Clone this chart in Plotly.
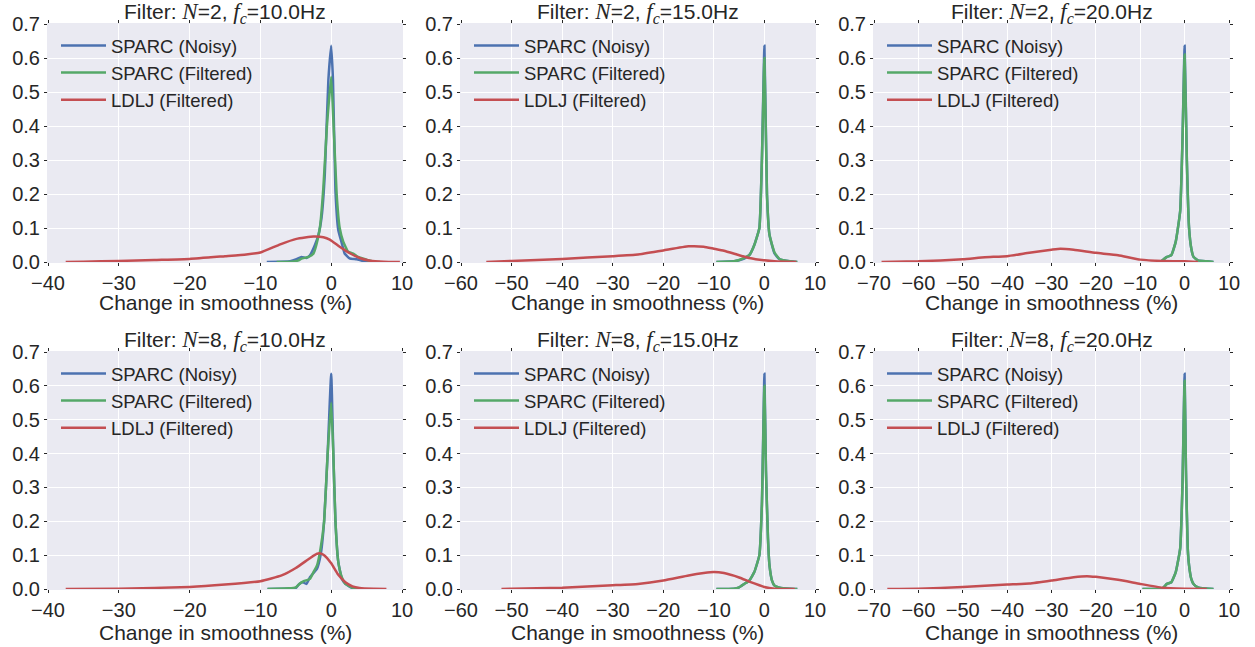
import plotly.graph_objects as go

# ---------------- data ----------------
titles = [
    ("2", "10.0"), ("2", "15.0"), ("2", "20.0"),
    ("8", "10.0"), ("8", "15.0"), ("8", "20.0"),
]
x_ranges = [[-40, 10], [-60, 10], [-70, 10], [-40, 10], [-60, 10], [-70, 10]]
series_names = ["SPARC (Noisy)", "SPARC (Filtered)", "LDLJ (Filtered)"]
x_label = "Change in smoothness (%)"

# Panel 1: N=2, fc=10
p1_noisy_x = [-9.1, -5.8, -4.9, -4.2, -3.5, -3.0, -2.3, -1.8, -1.35, -0.9, -0.4, 0.0, 0.25, 0.6, 1.0, 1.5, 1.9, 2.6, 3.6, 4.5, 5.5]
p1_noisy_y = [0.0, 0.002, 0.008, 0.015, 0.012, 0.02, 0.05, 0.08, 0.133, 0.26, 0.535, 0.636, 0.535, 0.21, 0.094, 0.055, 0.025, 0.011, 0.008, 0.003, 0.0]
p1_filt_x = [-7.7, -5.6, -4.6, -4.2, -3.2, -2.5, -2.1, -1.6, -1.1, -0.6, 0.0, 0.3, 0.77, 1.2, 1.7, 2.4, 3.1, 3.8, 4.5, 5.2, 6.0, 6.9]
p1_filt_y = [0.0, 0.001, 0.005, 0.01, 0.015, 0.025, 0.05, 0.1, 0.22, 0.4, 0.545, 0.42, 0.2, 0.1, 0.06, 0.03, 0.025, 0.015, 0.01, 0.005, 0.001, 0.0]
p1_ldlj_x = [-37.5, -35, -30, -25, -20, -15, -12, -10, -7.2, -4.9, -2.5, -1.1, -0.2, 1.2, 2.7, 4.1, 5.5, 7.4, 9.7]
p1_ldlj_y = [0.0, 0.001, 0.003, 0.006, 0.009, 0.017, 0.022, 0.028, 0.052, 0.068, 0.075, 0.073, 0.066, 0.045, 0.025, 0.011, 0.004, 0.001, 0.0]

# Panel 2: N=2, fc=15
p2_noisy_x = [-9.5, -6.0, -5.0, -4.0, -3.0, -2.0, -1.0, -0.5, 0.0, 0.5, 1.0, 2.0, 3.0, 5.0, 6.5]
p2_noisy_y = [0.0, 0.002, 0.005, 0.01, 0.02, 0.05, 0.1, 0.3, 0.636, 0.2, 0.08, 0.025, 0.008, 0.002, 0.0]
p2_filt_x = [-9.5, -6.0, -5.0, -4.0, -3.0, -2.0, -1.0, -0.5, 0.0, 0.5, 1.0, 2.0, 3.0, 5.0, 6.5]
p2_filt_y = [0.0, 0.002, 0.006, 0.012, 0.02, 0.05, 0.1, 0.3, 0.6, 0.2, 0.08, 0.028, 0.009, 0.002, 0.0]
p2_ldlj_x = [-55, -50, -40, -30, -25, -20, -15, -12, -10, -8, -5, -3, 0, 2, 4, 6.3]
p2_ldlj_y = [0.0, 0.003, 0.009, 0.017, 0.022, 0.034, 0.046, 0.045, 0.039, 0.033, 0.02, 0.012, 0.005, 0.002, 0.001, 0.0]

# Panel 3: N=2, fc=20
p3_noisy_x = [-5.5, -4.0, -3.0, -2.0, -1.0, -0.5, 0.0, 0.5, 1.0, 1.5, 2.0, 3.0, 5.0, 6.5]
p3_noisy_y = [0.0, 0.015, 0.02, 0.06, 0.15, 0.35, 0.636, 0.3, 0.1, 0.04, 0.015, 0.005, 0.002, 0.0]
p3_filt_x = [-5.5, -4.0, -3.0, -2.0, -1.0, -0.5, 0.0, 0.5, 1.0, 1.5, 2.0, 3.0, 5.0, 6.5]
p3_filt_y = [0.0, 0.015, 0.02, 0.06, 0.15, 0.35, 0.61, 0.3, 0.1, 0.04, 0.015, 0.005, 0.002, 0.0]
p3_ldlj_x = [-68.3, -60, -50, -45, -40, -35, -30, -28, -25, -20, -15, -10, -5, 0, 3]
p3_ldlj_y = [0.0, 0.002, 0.008, 0.014, 0.017, 0.027, 0.036, 0.039, 0.036, 0.027, 0.02, 0.007, 0.003, 0.002, 0.0]

# Panel 4: N=8, fc=10
p4_noisy_x = [-9.0, -5.0, -4.5, -4.0, -3.5, -3.0, -2.0, -1.5, -1.0, -0.5, 0.0, 0.3, 0.6, 1.0, 1.5, 2.0, 3.0, 4.0]
p4_noisy_y = [0.0, 0.003, 0.015, 0.02, 0.015, 0.035, 0.06, 0.1, 0.2, 0.4, 0.636, 0.4, 0.2, 0.08, 0.03, 0.015, 0.003, 0.0]
p4_filt_x = [-9.0, -6.0, -5.0, -4.5, -4.0, -3.0, -2.5, -2.0, -1.5, -1.0, -0.5, 0.0, 0.3, 0.6, 1.0, 1.5, 2.0, 3.0, 4.0]
p4_filt_y = [0.0, 0.002, 0.005, 0.015, 0.022, 0.03, 0.05, 0.07, 0.12, 0.2, 0.4, 0.55, 0.4, 0.2, 0.08, 0.035, 0.015, 0.004, 0.0]
p4_ldlj_x = [-37.5, -30, -20, -15, -10, -7, -5, -3, -2, -1.5, -1, 0, 1, 2, 3, 4, 6, 7.8]
p4_ldlj_y = [0.0, 0.001, 0.006, 0.013, 0.023, 0.04, 0.062, 0.091, 0.104, 0.105, 0.1, 0.076, 0.042, 0.02, 0.008, 0.003, 0.0005, 0.0]

# Panel 5: N=8, fc=15
p5_noisy_x = [-9.5, -6.0, -5.0, -4.0, -3.0, -2.0, -1.0, -0.5, 0.0, 0.3, 0.7, 1.0, 1.5, 2.0, 3.0, 5.0, 6.5]
p5_noisy_y = [0.0, 0.001, 0.005, 0.015, 0.025, 0.05, 0.1, 0.25, 0.636, 0.35, 0.15, 0.07, 0.025, 0.01, 0.004, 0.001, 0.0]
p5_filt_x = [-9.5, -6.0, -5.0, -4.0, -3.0, -2.0, -1.0, -0.5, 0.0, 0.3, 0.7, 1.0, 1.5, 2.0, 3.0, 5.0, 6.5]
p5_filt_y = [0.0, 0.001, 0.005, 0.015, 0.025, 0.05, 0.1, 0.25, 0.6, 0.35, 0.15, 0.07, 0.025, 0.01, 0.004, 0.001, 0.0]
p5_ldlj_x = [-52, -50, -40, -30, -25, -20, -15, -12, -10, -8, -5, -3, -1, 0, 2, 4, 6]
p5_ldlj_y = [0.0, 0.001, 0.004, 0.011, 0.015, 0.025, 0.04, 0.047, 0.05, 0.047, 0.034, 0.022, 0.011, 0.006, 0.001, 0.0, 0.0]

# Panel 6: N=8, fc=20
p6_noisy_x = [-9.5, -5.0, -4.0, -3.0, -2.0, -1.0, -0.5, 0.0, 0.3, 0.7, 1.0, 1.5, 2.0, 3.0, 4.0, 6.5]
p6_noisy_y = [0.0, 0.002, 0.015, 0.02, 0.05, 0.12, 0.3, 0.636, 0.35, 0.12, 0.07, 0.03, 0.015, 0.005, 0.002, 0.0]
p6_filt_x = [-9.5, -5.0, -4.0, -3.0, -2.0, -1.0, -0.5, 0.0, 0.3, 0.7, 1.0, 1.5, 2.0, 3.0, 4.0, 6.5]
p6_filt_y = [0.0, 0.002, 0.015, 0.02, 0.05, 0.12, 0.3, 0.615, 0.35, 0.12, 0.07, 0.03, 0.015, 0.005, 0.002, 0.0]
p6_ldlj_x = [-67, -60, -50, -40, -35, -30, -25, -22, -20, -15, -10, -5, 0, 5]
p6_ldlj_y = [0.0, 0.0005, 0.006, 0.013, 0.016, 0.025, 0.035, 0.038, 0.036, 0.027, 0.015, 0.004, 0.001, 0.0]

panels = [
    (p1_noisy_x, p1_noisy_y, p1_filt_x, p1_filt_y, p1_ldlj_x, p1_ldlj_y),
    (p2_noisy_x, p2_noisy_y, p2_filt_x, p2_filt_y, p2_ldlj_x, p2_ldlj_y),
    (p3_noisy_x, p3_noisy_y, p3_filt_x, p3_filt_y, p3_ldlj_x, p3_ldlj_y),
    (p4_noisy_x, p4_noisy_y, p4_filt_x, p4_filt_y, p4_ldlj_x, p4_ldlj_y),
    (p5_noisy_x, p5_noisy_y, p5_filt_x, p5_filt_y, p5_ldlj_x, p5_ldlj_y),
    (p6_noisy_x, p6_noisy_y, p6_filt_x, p6_filt_y, p6_ldlj_x, p6_ldlj_y),
]

# ---------------- styling / layout ----------------
W, H = 1255, 647
colors = ["#4C72B0", "#55A868", "#C44E52"]
FONT = "Liberation Sans, Arial, sans-serif"
TXT = "#262626"
BG = "#EAEAF2"
col_px = [(48, 402), (461, 815), (874, 1229)]
row_px = [(24, 262), (352, 589)]
xlabel_y = [302, 632]

fig = go.Figure()
layout = dict(
    width=W, height=H, margin=dict(l=0, r=0, t=0, b=0),
    paper_bgcolor="white", plot_bgcolor=BG,
    font=dict(family=FONT, color=TXT), showlegend=True,
)
annotations = []
serif = "font-family:'Liberation Serif', 'DejaVu Serif', serif;font-size:23px"

for i, data in enumerate(panels):
    r, c = divmod(i, 3)
    k = i + 1
    xa = "x" if k == 1 else f"x{k}"
    ya = "y" if k == 1 else f"y{k}"
    lg = "legend" if k == 1 else f"legend{k}"
    x0, x1 = col_px[c]
    yt, yb = row_px[r]
    xd = [x0 / W, x1 / W]
    yd = [(H - yb) / H, (H - yt) / H]
    for j in range(3):
        fig.add_trace(go.Scatter(
            x=data[2 * j], y=data[2 * j + 1], mode="lines", name=series_names[j],
            line=dict(color=colors[j], width=2.5, shape="spline", smoothing=0.4),
            xaxis=xa, yaxis=ya, legend=lg,
        ))
    axis_common = dict(
        showgrid=True, gridcolor="white", gridwidth=1, zeroline=False,
        ticks="outside", ticklen=3, tickcolor=TXT, tickwidth=1, mirror="ticks",
        showline=True, linecolor=BG, linewidth=1,
        tickfont=dict(size=20, family=FONT, color=TXT),
        automargin=False,
    )
    layout["xaxis" if k == 1 else f"xaxis{k}"] = dict(
        axis_common, domain=xd, range=x_ranges[i], dtick=10, tick0=0,
        anchor=ya, tickformat="d",
    )
    layout["yaxis" if k == 1 else f"yaxis{k}"] = dict(
        axis_common, domain=yd, range=[0, 0.7], dtick=0.1, tick0=0,
        anchor=xa, tickformat=".1f",
    )
    layout[lg] = dict(
        x=(x0 + 8) / W, y=(H - yt - 3) / H, xanchor="left", yanchor="top",
        bgcolor="rgba(0,0,0,0)", font=dict(size=18.5, family=FONT, color=TXT),
        itemwidth=45, tracegroupgap=0,
    )
    N, fc = titles[i]
    annotations.append(dict(
        text=(f"Filter: <span style=\"{serif}\"><i>N</i></span>={N}, "
              f"<span style=\"{serif}\"><i>f</i><sub><i>c</i></sub></span>={fc}Hz"),
        x=(x0 + x1) / 2 / W, y=(H - yt - 5) / H, xref="paper", yref="paper",
        xanchor="center", yanchor="bottom", showarrow=False,
        font=dict(size=21, family=FONT, color=TXT),
    ))
    annotations.append(dict(
        text=x_label, x=(x0 + x1) / 2 / W, y=(H - xlabel_y[r]) / H,
        xref="paper", yref="paper", xanchor="center", yanchor="middle",
        showarrow=False, font=dict(size=21, family=FONT, color=TXT),
    ))

layout["annotations"] = annotations
fig.update_layout(**layout)
fig.write_html("out.html", config={"displayModeBar": False},
               post_script="document.body.style.margin='0';")
